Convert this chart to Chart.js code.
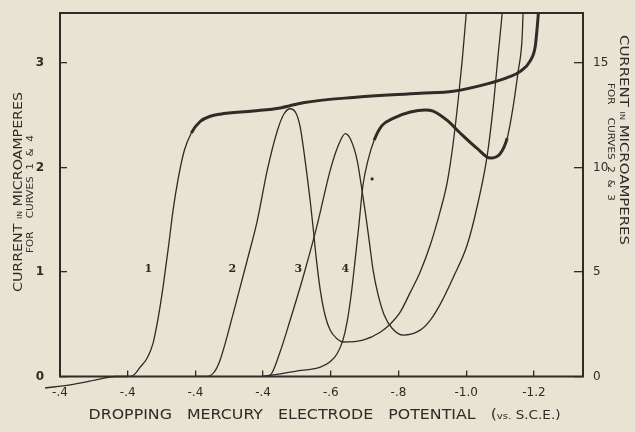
<!DOCTYPE html>
<html>
<head>
<meta charset="utf-8">
<script src="https://cdn.jsdelivr.net/npm/chart.js@4.4.1/dist/chart.umd.min.js"></script>
<style>
  html, body { margin: 0; padding: 0; background: #e9e4d4; }
</style>
</head>
<body>
<canvas id="polarogram" width="635" height="432"></canvas>
<script>
// potential axis in volts (magnitude), labels as printed on the original figure
const xTickValues = [-0.2, 0, 0.2, 0.4, 0.6, 0.8, 1.0, 1.2];
const xTickLabels = ['-.4', '-.4', '-.4', '-.4', '-.6', '-.8', '-1.0', '-1.2'];
const leftTicks = [0, 1, 2, 3];      // µA, curves 1 & 4
const rightTicks = [0, 5, 10, 15];   // µA, curves 2 & 3

// curve 1 (left axis)
const curve1X = [-0.244, -0.170, -0.090, -0.037, 0.000, 0.016, 0.037, 0.058, 0.075, 0.090, 0.105, 0.120, 0.134, 0.149, 0.167, 0.188, 0.214, 0.244, 0.273, 0.371, 0.451, 0.518, 0.666, 0.864, 0.962, 1.062, 1.121, 1.160, 1.189, 1.204, 1.210, 1.213, 1.216];
const curve1Y = [-0.11, -0.08, -0.03, 0.00, 0.00, 0.01, 0.09, 0.18, 0.32, 0.56, 0.87, 1.23, 1.59, 1.89, 2.16, 2.33, 2.44, 2.49, 2.51, 2.54, 2.57, 2.62, 2.67, 2.71, 2.73, 2.80, 2.86, 2.92, 3.02, 3.16, 3.35, 3.47, 3.59];

// curve 2 (right axis)
const curve2X = [0.199, 0.235, 0.256, 0.273, 0.312, 0.353, 0.383, 0.412, 0.442, 0.462, 0.480, 0.498, 0.510, 0.521, 0.530, 0.539, 0.548, 0.557, 0.569, 0.583, 0.598, 0.616, 0.636, 0.695, 0.746, 0.775, 0.805, 0.834, 0.864, 0.894, 0.923, 0.944, 0.961, 0.976, 0.988, 0.997, 1.003];
const curve2Y = [0, 0, 0.22, 0.79, 3.03, 5.56, 7.47, 9.85, 11.76, 12.57, 12.81, 12.57, 11.90, 10.71, 9.61, 8.42, 7.08, 5.65, 4.12, 2.93, 2.22, 1.84, 1.65, 1.74, 2.12, 2.50, 3.08, 4.00, 5.00, 6.30, 7.90, 9.30, 11.10, 13.19, 15.10, 16.77, 17.96];

// curve 3 (right axis)
const curve3X = [0.398, 0.421, 0.450, 0.480, 0.518, 0.548, 0.563, 0.598, 0.622, 0.643, 0.660, 0.678, 0.690, 0.702, 0.714, 0.725, 0.740, 0.758, 0.781, 0.814, 0.864, 0.894, 0.923, 0.962, 1.003, 1.033, 1.062, 1.080, 1.094, 1.106, 1.109];
const curve3Y = [0, 0.07, 1.17, 2.70, 4.75, 6.51, 7.47, 9.85, 11.05, 11.62, 11.29, 10.33, 9.14, 7.85, 6.42, 5.08, 3.89, 2.93, 2.31, 1.98, 2.22, 2.70, 3.45, 4.75, 6.30, 8.18, 10.57, 12.95, 15.34, 17.34, 17.96];

// curve 4 (left axis)
const curve4X = [0.397, 0.421, 0.495, 0.569, 0.598, 0.619, 0.636, 0.648, 0.660, 0.671, 0.683, 0.695, 0.710, 0.728, 0.751, 0.784, 0.835, 0.879, 0.902, 0.944, 0.982, 1.033, 1.071, 1.100, 1.121, 1.139, 1.153, 1.165, 1.168, 1.171];
const curve4Y = [0, 0.01, 0.05, 0.09, 0.14, 0.22, 0.35, 0.52, 0.78, 1.09, 1.45, 1.83, 2.07, 2.26, 2.40, 2.47, 2.53, 2.55, 2.54, 2.45, 2.33, 2.18, 2.09, 2.13, 2.28, 2.59, 2.91, 3.23, 3.47, 3.59];

// stray speck on the record
const speckX = [0.722];
const speckY = [1.89];

// curve numbers
const curveLabels = ['1', '2', '3', '4'];
const curveLabelX = [0.061, 0.309, 0.504, 0.643];
const curveLabelY = [1.03, 1.03, 1.03, 1.03];

const ink = '#2f2b27';
const paper = '#e8e3d3';

function pts(xs, ys) {
    return xs.map((x, i) => ({ x: x, y: ys[i] }));
}

function drawRuns(ctx, runs, cx, cy, angle, targetW) {
    ctx.save();
    ctx.translate(cx, cy);
    ctx.rotate(angle);
    let total = 0;
    runs.forEach(r => {
        ctx.font = r[1] + 'px "DejaVu Sans"';
        total += ctx.measureText(r[0]).width;
    });
    const sc = targetW ? targetW / total : 1;
    ctx.scale(sc, 1);
    ctx.fillStyle = ink;
    ctx.textBaseline = 'alphabetic';
    ctx.textAlign = 'left';
    let x = -total / 2;
    const base = runs[0][1] * 0.36;
    runs.forEach(r => {
        ctx.font = r[1] + 'px "DejaVu Sans"';
        ctx.fillText(r[0], x, base);
        x += ctx.measureText(r[0]).width;
    });
    ctx.restore();
}

const decor = {
    id: 'decor',
    beforeDraw(chart) {
        const ctx = chart.ctx;
        ctx.save();
        ctx.fillStyle = paper;
        ctx.fillRect(0, 0, chart.width, chart.height);
        ctx.restore();
    },
    afterDraw(chart) {
        const ctx = chart.ctx;
        const a = chart.chartArea;
        ctx.save();
        ctx.strokeStyle = ink;
        ctx.lineWidth = 2;
        ctx.strokeRect(a.left, a.top, a.right - a.left, a.bottom - a.top);

        // curve numbers
        ctx.fillStyle = ink;
        ctx.font = 'bold 11px "DejaVu Serif"';
        ctx.textAlign = 'center';
        ctx.textBaseline = 'middle';
        curveLabels.forEach((t, i) => {
            ctx.fillText(t, chart.scales.x.getPixelForValue(curveLabelX[i]),
                chart.scales.y.getPixelForValue(curveLabelY[i]));
        });
        ctx.restore();

        // axis titles
        drawRuns(ctx, [['DROPPING   MERCURY   ELECTRODE   POTENTIAL   (', 14], ['vs.', 9], [' S.C.E.)', 12]],
            (a.left + a.right) / 2 + 3, 414, 0, 472);
        drawRuns(ctx, [['CURRENT ', 13], ['IN', 7], [' MICROAMPERES', 13]], 17, 192, -Math.PI / 2, 200);
        drawRuns(ctx, [['FOR    CURVES  1  &  4', 8]], 30, 194, -Math.PI / 2, 118);
        drawRuns(ctx, [['CURRENT ', 13], ['IN', 7], [' MICROAMPERES', 13]], 625, 140, Math.PI / 2, 210);
        drawRuns(ctx, [['FOR    CURVES  2  &  3', 8]], 611, 142, Math.PI / 2, 118);
    }
};

const thin = 1.3;
const thick = 3;

// keep tick padding from growing the chart area
function noPad(s) {
    s.paddingTop = 0;
    s.paddingBottom = 0;
    s.paddingLeft = 0;
    s.paddingRight = 0;
}

new Chart(document.getElementById('polarogram'), {
    type: 'line',
    data: {
        datasets: [
            {
                label: 'Curve 1',
                data: pts(curve1X, curve1Y),
                yAxisID: 'y',
                borderColor: ink,
                borderWidth: thin,
                segment: { borderWidth: c => (c.p0.parsed.x >= 0.18 ? thick : thin) },
                clip: { left: 30, top: 0, right: 0, bottom: 15 },
            },
            {
                label: 'Curve 2',
                data: pts(curve2X, curve2Y),
                yAxisID: 'y2',
                borderColor: ink,
                borderWidth: thin,
            },
            {
                label: 'Curve 3',
                data: pts(curve3X, curve3Y),
                yAxisID: 'y2',
                borderColor: ink,
                borderWidth: thin,
            },
            {
                label: 'Curve 4',
                data: pts(curve4X, curve4Y),
                yAxisID: 'y',
                borderColor: ink,
                borderWidth: thin,
                segment: { borderWidth: c => (c.p0.parsed.x >= 0.72 && c.p0.parsed.x < 1.11 ? thick : thin) },
            },
            {
                type: 'scatter',
                label: 'speck',
                data: pts(speckX, speckY),
                yAxisID: 'y',
                pointRadius: 1.6,
                pointBackgroundColor: ink,
                pointBorderWidth: 0,
            }
        ]
    },
    options: {
        responsive: false,
        animation: false,
        layout: { padding: { top: 13 } },
        elements: {
            point: { radius: 0 },
            line: { cubicInterpolationMode: 'monotone', fill: false }
        },
        plugins: {
            legend: { display: false },
            tooltip: { enabled: false }
        },
        scales: {
            x: {
                type: 'linear',
                min: -0.2,
                max: 1.345,
                afterBuildTicks: s => { s.ticks = xTickValues.map(v => ({ value: v })); },
                afterFit: s => { s.height = 55.5; noPad(s); },
                border: { display: false },
                grid: { drawOnChartArea: false, tickLength: -6, color: ink, lineWidth: 1.3 },
                ticks: {
                    padding: 15,
                    color: ink,
                    font: { family: 'DejaVu Sans', size: 12 },
                    maxRotation: 0,
                    callback: (v, i) => xTickLabels[i]
                }
            },
            y: {
                position: 'left',
                min: 0,
                max: 3.478,
                afterBuildTicks: s => { s.ticks = leftTicks.map(v => ({ value: v })); },
                afterFit: s => { s.width = 60; noPad(s); },
                border: { display: false },
                grid: { drawOnChartArea: false, tickLength: -7, color: ink, lineWidth: 1.3 },
                ticks: {
                    padding: 23,
                    color: ink,
                    font: { family: 'DejaVu Sans', size: 12, weight: 'bold' }
                }
            },
            y2: {
                position: 'right',
                min: 0,
                max: 17.39,
                afterBuildTicks: s => { s.ticks = rightTicks.map(v => ({ value: v })); },
                afterFit: s => { s.width = 52; noPad(s); },
                border: { display: false },
                grid: { drawOnChartArea: false, tickLength: -9, color: ink, lineWidth: 1.3 },
                ticks: {
                    padding: 19,
                    color: ink,
                    font: { family: 'DejaVu Sans', size: 12 }
                }
            }
        }
    },
    plugins: [decor]
});
</script>
</body>
</html>
